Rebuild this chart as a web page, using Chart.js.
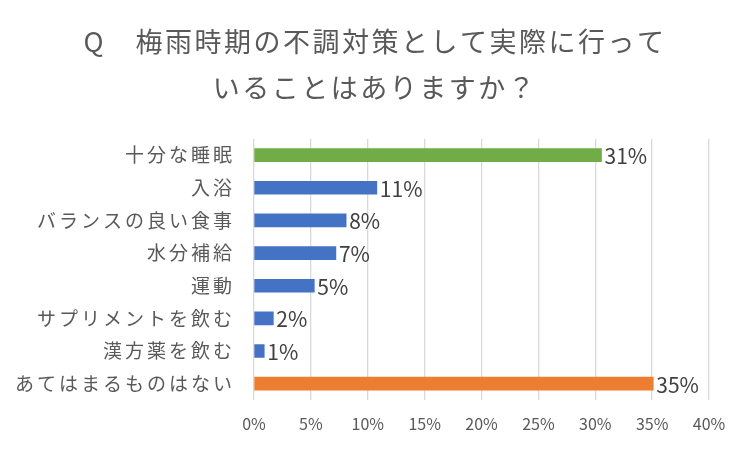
<!DOCTYPE html>
<html lang="ja">
<head>
<meta charset="utf-8">
<script src="https://cdn.jsdelivr.net/npm/chart.js@4"></script>
<style>
  html, body { margin: 0; padding: 0; background: #fff; }
  #wrap { width: 750px; height: 450px; }
</style>
</head>
<body>
<div id="wrap"><canvas id="chart" width="750" height="450"></canvas></div>
<script>
const titleLines = ['Q　梅雨時期の不調対策として実際に行って', 'いることはありますか？'];
const categories = ['十分な睡眠', '入浴', 'バランスの良い食事', '水分補給', '運動', 'サプリメントを飲む', '漢方薬を飲む', 'あてはまるものはない'];
const values = [30.55, 10.8, 8.1, 7.2, 5.3, 1.7, 0.9, 35.1];
const barColors = ['#70AD47', '#4472C4', '#4472C4', '#4472C4', '#4472C4', '#4472C4', '#4472C4', '#ED7D31'];
const xMax = 40;
const xStep = 5;

const FONT = '"Noto Sans CJK JP", "Noto Sans", sans-serif';
const GREY = '#595959';

// Excel's Japanese font runs wider than Noto, so add some letter spacing
const withSpacing = (fn, spacing) => function (...args) {
  const ctx = this.ctx;
  ctx.save();
  ctx.letterSpacing = spacing;
  fn.apply(this, args);
  ctx.restore();
};
Chart.CategoryScale.prototype.drawLabels = withSpacing(Chart.CategoryScale.prototype.drawLabels, '3px');
Chart.LinearScale.prototype.drawLabels = withSpacing(Chart.LinearScale.prototype.drawLabels, '0px');

const titleSpacing = {
  id: 'titleSpacing',
  beforeDraw(chart) {
    const t = chart.titleBlock;
    if (t && !t._spaced) {
      t.draw = withSpacing(t.draw, '2.5px');
      t._spaced = true;
    }
  }
};

// value labels at the end of each bar
const valueLabels = {
  id: 'valueLabels',
  afterDatasetsDraw(chart) {
    const ctx = chart.ctx;
    const meta = chart.getDatasetMeta(0);
    ctx.save();
    ctx.letterSpacing = '0px';
    ctx.font = '21px ' + FONT;
    ctx.fillStyle = '#404040';
    ctx.textAlign = 'left';
    ctx.textBaseline = 'middle';
    meta.data.forEach((bar, i) => {
      ctx.fillText(Math.round(values[i]) + '%', bar.x + 3, bar.y + 1);
    });
    ctx.restore();
  }
};

new Chart(document.getElementById('chart'), {
  type: 'bar',
  data: {
    labels: categories,
    datasets: [{
      data: values,
      backgroundColor: barColors,
      barThickness: 13
    }]
  },
  options: {
    indexAxis: 'y',
    responsive: false,
    animation: false,
    layout: { padding: 0 },
    plugins: {
      legend: { display: false },
      tooltip: { enabled: false },
      title: {
        display: true,
        text: titleLines,
        color: GREY,
        font: { family: FONT, size: 27, weight: 'normal', lineHeight: 1.7 },
        padding: { top: 19, bottom: 28 }
      }
    },
    scales: {
      x: {
        min: 0,
        max: xMax,
        // keep the plot right edge at 709 without narrowing the title box
        afterFit: s => { s.height = 50; s.paddingRight = 41; },
        ticks: {
          stepSize: xStep,
          color: GREY,
          padding: 14,
          font: { family: FONT, size: 16 },
          callback: v => v + '%'
        },
        grid: { color: '#D9D9D9', lineWidth: 1.3, drawTicks: false },
        border: { display: false }
      },
      y: {
        afterFit: s => { s.width = 254; },
        ticks: {
          color: GREY,
          padding: 19,
          font: { family: FONT, size: 19 }
        },
        grid: { display: false, drawTicks: false },
        border: { display: false }
      }
    }
  },
  plugins: [titleSpacing, valueLabels]
});
</script>
</body>
</html>
